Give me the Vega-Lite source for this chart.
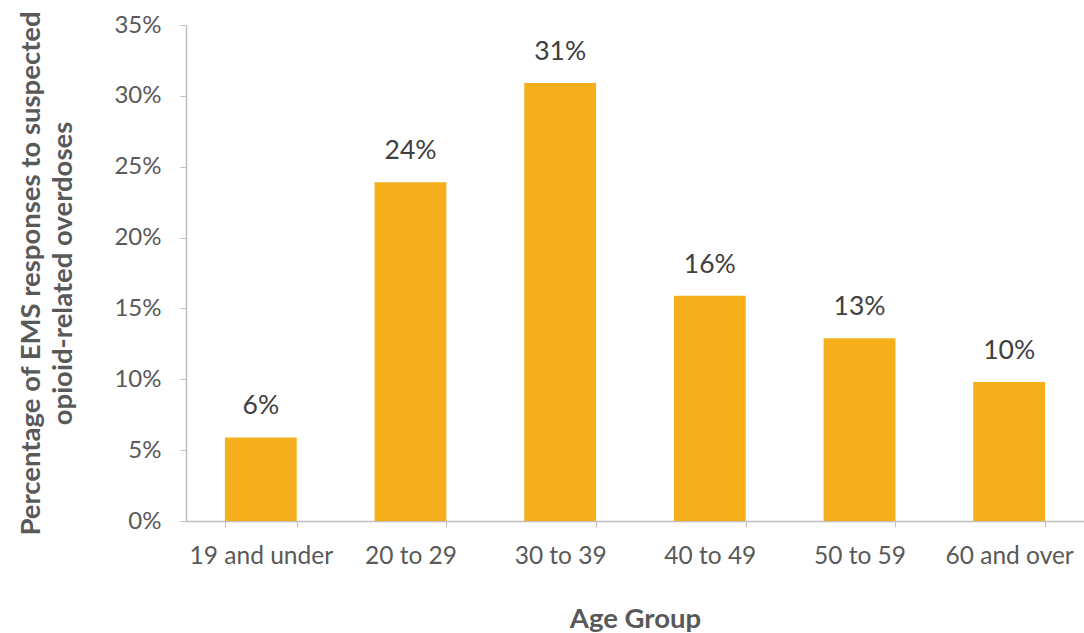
{
  "$schema": "https://vega.github.io/schema/vega-lite/v6.json",
  "width": 898,
  "height": 496,
  "autosize": {"type": "none"},
  "padding": {"left": 186, "top": 25, "right": 0, "bottom": 112},
  "background": "white",
  "config": {"view": {"stroke": null}, "font": "Lato"},
  "data": {"values": [
    {"age": "19 and under", "pct": 0.059, "label": "6%"},
    {"age": "20 to 29", "pct": 0.239, "label": "24%"},
    {"age": "30 to 39", "pct": 0.309, "label": "31%"},
    {"age": "40 to 49", "pct": 0.159, "label": "16%"},
    {"age": "50 to 59", "pct": 0.129, "label": "13%"},
    {"age": "60 and over", "pct": 0.098, "label": "10%"}
  ]},
  "encoding": {
    "x": {"field": "age", "type": "nominal", "sort": null,
      "scale": {"paddingInner": 0.52, "paddingOuter": 0.26},
      "axis": {"title": "Age Group", "labelAngle": 0, "tickBand": "extent",
        "domainColor": "#BFBFBF", "tickColor": "#BFBFBF", "tickSize": 6, "domainWidth": 1.5,
        "labelFont": "Lato", "labelFontSize": 24.5, "labelColor": "#595959", "labelPadding": 17,
        "titleFont": "Lato", "titleFontSize": 27.5, "titleFontWeight": "bold", "titleColor": "#595959", "titlePadding": 38}},
    "y": {"field": "pct", "type": "quantitative",
      "scale": {"domain": [0, 0.35]},
      "axis": {"title": ["Percentage of EMS responses to suspected", "opioid-related overdoses"],
        "format": ".0%", "values": [0, 0.05, 0.1, 0.15, 0.2, 0.25, 0.3, 0.35], "grid": false,
        "domainColor": "#BFBFBF", "tickColor": "#BFBFBF", "tickSize": 6, "domainWidth": 1.5,
        "labelFont": "Lato", "labelFontSize": 24, "labelColor": "#595959", "labelPadding": 19,
        "titleFont": "Lato", "titleFontSize": 27.5, "titleFontWeight": "bold", "titleColor": "#595959",
        "titleLineHeight": 32, "titlePadding": 36}}
  },
  "layer": [
    {"mark": {"type": "bar", "color": "#F5AF1C"}},
    {"mark": {"type": "text", "baseline": "bottom", "dy": -17, "fontSize": 26.5, "color": "#404040", "font": "Lato"},
     "encoding": {"text": {"field": "label"}}}
  ]
}
